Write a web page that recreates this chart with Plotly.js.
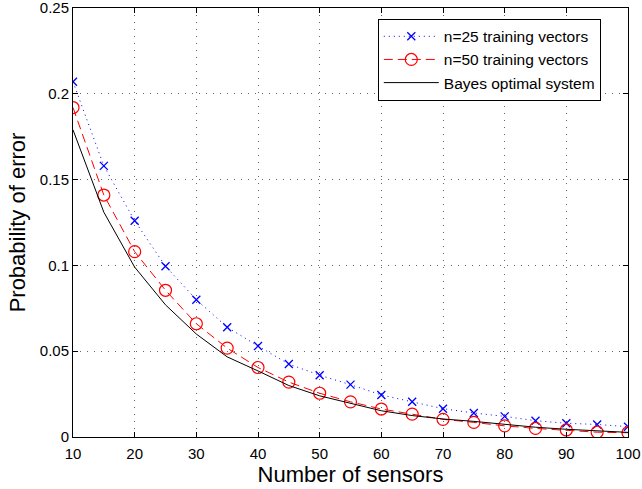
<!DOCTYPE html>
<html>
<head>
<meta charset="utf-8">
<script src="https://cdn.plot.ly/plotly-3.0.1.min.js"></script>
<style>html,body{margin:0;padding:0;background:#fff;}#chart{width:642px;height:489px;}</style>
</head>
<body>
<div id="chart"></div>
<script>
var sensors = [10,15,20,25,30,35,40,45,50,55,60,65,70,75,80,85,90,95,100];
var n25 = [0.207,0.158,0.126,0.0995,0.080,0.064,0.053,0.0425,0.036,0.0305,0.0245,0.0205,0.0165,0.014,0.012,0.0095,0.008,0.0073,0.006];
var n50 = [0.192,0.141,0.108,0.0855,0.066,0.0518,0.0405,0.032,0.0255,0.0205,0.0163,0.0133,0.0103,0.0085,0.0065,0.005,0.0041,0.0028,0.0025];
var bayes = [0.179,0.131,0.099,0.077,0.060,0.0467,0.0385,0.030,0.024,0.0195,0.0153,0.0125,0.0105,0.0091,0.0072,0.0057,0.0045,0.0036,0.0027];
var names = ['n=25 training vectors','n=50 training vectors','Bayes optimal system'];
var xTicks = [10,20,30,40,50,60,70,80,90,100];
var yTicks = [0,0.05,0.1,0.15,0.2,0.25];
var yTickText = ['0','0.05','0.1','0.15','0.2','0.25'];

var FONT = 'Liberation Sans, Arial, Helvetica, sans-serif';

var traces = [
  {x: sensors, y: n25, name: names[0], mode: 'lines+markers', type: 'scatter',
   line: {color: '#0000ff', dash: '1px,4px', width: 1},
   marker: {symbol: 'x-thin-open', size: 8, color: '#0000ff', line: {color: '#0000ff', width: 1.3}}},
  {x: sensors, y: n50, name: names[1], mode: 'lines+markers', type: 'scatter',
   line: {color: '#ff0000', dash: '9px,5px', width: 1},
   marker: {symbol: 'circle-open', size: 12, color: '#ff0000', line: {color: '#ff0000', width: 1.2}}},
  {x: sensors, y: bayes, name: names[2], mode: 'lines', type: 'scatter',
   line: {color: '#000000', width: 1}}
];

var axisCommon = {
  showline: true, linecolor: '#000', linewidth: 1, mirror: 'ticks',
  ticks: 'inside', ticklen: 5, tickcolor: '#000', tickwidth: 1,
  showgrid: true, gridcolor: '#666', griddash: '1px,6px', gridwidth: 1,
  zeroline: false, ticklabeloverflow: 'allow',
  tickfont: {family: FONT, size: 15, color: '#000'}
};

var layout = {
  width: 642, height: 489,
  margin: {l: 73, r: 14, t: 8, b: 52},
  paper_bgcolor: '#fff', plot_bgcolor: '#fff',
  showlegend: true,
  xaxis: Object.assign({}, axisCommon, {
    range: [10, 100], tickvals: xTicks, ticklabelstandoff: 3,
    title: {text: 'Number of sensors', standoff: 2, font: {family: FONT, size: 22, color: '#000'}}
  }),
  yaxis: Object.assign({}, axisCommon, {
    range: [0, 0.25], tickvals: yTicks, ticktext: yTickText,
    title: {text: 'Probability of error', standoff: 8, font: {family: FONT, size: 22, color: '#000'}}
  }),
  legend: {
    x: 0.951, y: 0.975, xanchor: 'right', yanchor: 'top',
    bgcolor: '#fff', bordercolor: '#000', borderwidth: 1,
    font: {family: FONT, size: 15.5, color: '#000'},
    tracegroupgap: 0, itemwidth: 55
  }
};

Plotly.newPlot('chart', traces, layout, {staticPlot: true, displayModeBar: false});
</script>
</body>
</html>
